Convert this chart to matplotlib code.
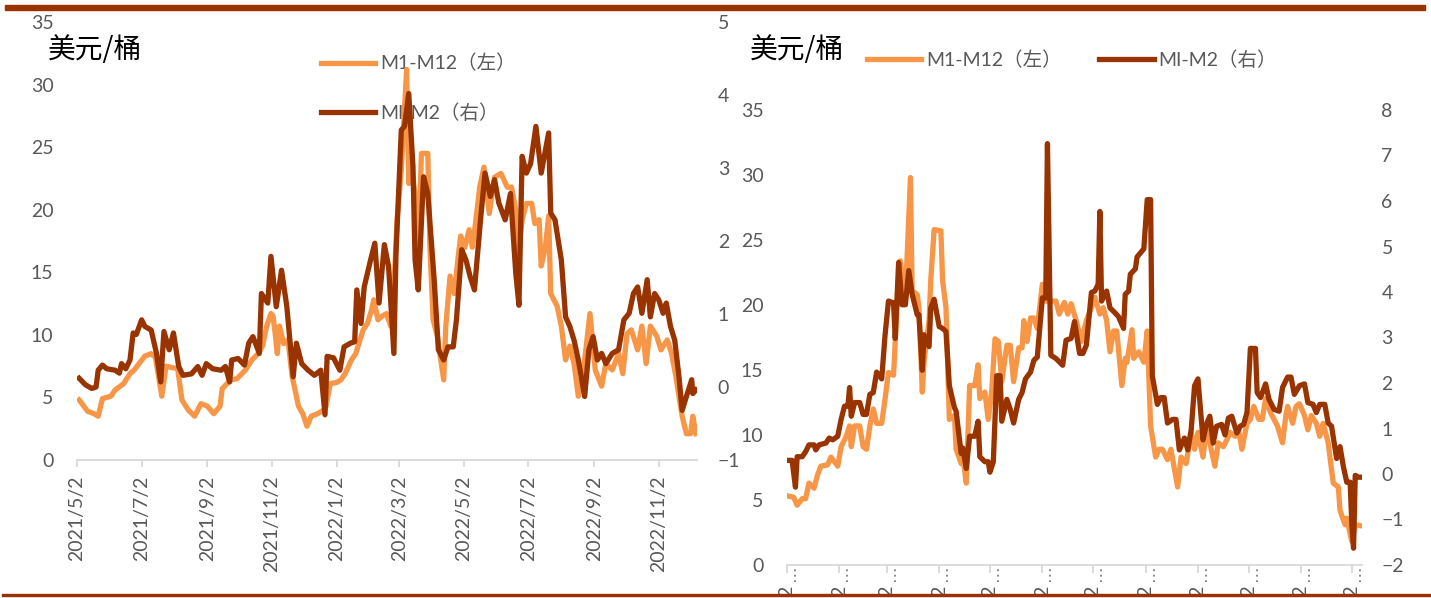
import matplotlib
matplotlib.use("Agg")
import matplotlib.pyplot as plt
import matplotlib.transforms as mtransforms
from matplotlib.patches import Rectangle
import pandas as pd

plt.rcParams['font.family'] = ['Lato', 'Noto Sans CJK SC']

ORANGE = '#F79646'
BROWN = '#993300'
GREY = '#595959'
AXIS = '#D9D9D9'

# ---- left panel: 2021/5 - 2022/12 ----
l_m12_dates = ['2021-05-04','2021-05-12','2021-05-18','2021-05-22','2021-05-26','2021-06-03','2021-06-07','2021-06-15','2021-06-21','2021-06-25',
	'2021-07-05','2021-07-11','2021-07-15','2021-07-21','2021-07-25','2021-07-30','2021-08-05','2021-08-09','2021-08-15','2021-08-21',
	'2021-08-27','2021-09-02','2021-09-08','2021-09-14','2021-09-16','2021-09-24','2021-09-30','2021-10-08','2021-10-14','2021-10-20',
	'2021-10-24','2021-10-28','2021-11-01','2021-11-03','2021-11-05','2021-11-07','2021-11-09','2021-11-13','2021-11-17','2021-11-21',
	'2021-11-27','2021-12-01','2021-12-05','2021-12-09','2021-12-15','2021-12-21','2021-12-23','2021-12-27','2022-01-02','2022-01-06',
	'2022-01-10','2022-01-16','2022-01-20','2022-01-24','2022-01-27','2022-01-31','2022-02-04','2022-02-06','2022-02-10','2022-02-14',
	'2022-02-18','2022-02-22','2022-02-26','2022-02-28','2022-03-04','2022-03-09','2022-03-11','2022-03-14','2022-03-18','2022-03-20',
	'2022-03-23','2022-03-29','2022-03-31','2022-04-03','2022-04-07','2022-04-13','2022-04-15','2022-04-19','2022-04-23','2022-04-27',
	'2022-04-29','2022-05-03','2022-05-07','2022-05-10','2022-05-13','2022-05-17','2022-05-21','2022-05-26','2022-05-31','2022-06-06',
	'2022-06-12','2022-06-16','2022-06-20','2022-06-22','2022-06-26','2022-06-30','2022-07-05','2022-07-08','2022-07-12','2022-07-14',
	'2022-07-18','2022-07-21','2022-07-23','2022-07-29','2022-08-02','2022-08-06','2022-08-10','2022-08-14','2022-08-18','2022-08-24',
	'2022-08-29','2022-09-03','2022-09-09','2022-09-13','2022-09-19','2022-09-25','2022-09-29','2022-10-03','2022-10-07','2022-10-13',
	'2022-10-17','2022-10-21','2022-10-25','2022-10-31','2022-11-04','2022-11-10','2022-11-14','2022-11-18','2022-11-24','2022-11-28',
	'2022-12-02','2022-12-04','2022-12-07']
l_m12 = [4.8,3.9,3.7,3.5,4.9,5.1,5.6,6.1,6.9,7.2,
	8.3,8.5,8.2,5.1,7.5,7.4,7.3,4.8,4.0,3.5,
	4.5,4.3,3.7,4.3,5.7,6.4,6.5,7.2,8.0,8.5,
	9.1,10.7,11.7,11.5,10.1,8.5,10.7,9.3,9.6,6.7,
	4.3,3.7,2.7,3.5,3.7,4.0,4.3,6.1,6.2,6.4,
	6.9,8.0,8.5,9.6,10.4,10.9,12.0,12.8,11.2,11.5,
	11.7,10.7,15.5,19.2,23.2,31.2,22.1,23.2,20.5,17.0,
	24.5,24.5,17.0,11.2,9.9,6.4,10.7,14.7,13.3,16.5,
	17.9,17.0,18.4,17.0,18.9,21.8,23.4,19.7,22.6,22.9,
	21.8,21.8,20.0,16.0,19.2,20.5,20.5,18.9,19.2,15.5,
	17.0,19.5,13.3,12.3,10.7,8.0,9.1,7.7,5.1,8.0,
	11.7,7.2,5.9,7.7,7.2,8.5,6.9,10.1,10.4,8.8,
	10.7,7.7,10.7,9.9,8.8,9.6,8.5,6.7,3.5,2.1,
	2.1,3.5,2.1]

l_m2_dates = ['2021-05-04','2021-05-10','2021-05-16','2021-05-20','2021-05-22','2021-05-26','2021-05-30','2021-06-07','2021-06-11','2021-06-13',
	'2021-06-17','2021-06-21','2021-06-24','2021-06-27','2021-07-02','2021-07-05','2021-07-11','2021-07-16','2021-07-20','2021-07-23',
	'2021-07-28','2021-08-01','2021-08-06','2021-08-10','2021-08-18','2021-08-24','2021-08-28','2021-09-01','2021-09-07','2021-09-15',
	'2021-09-19','2021-09-23','2021-09-25','2021-10-01','2021-10-07','2021-10-11','2021-10-15','2021-10-21','2021-10-23','2021-10-29',
	'2021-11-01','2021-11-06','2021-11-11','2021-11-16','2021-11-22','2021-11-25','2021-11-30','2021-12-06','2021-12-12','2021-12-18',
	'2021-12-22','2021-12-24','2021-12-30','2022-01-05','2022-01-09','2022-01-15','2022-01-19','2022-01-21','2022-01-25','2022-01-28',
	'2022-02-03','2022-02-07','2022-02-11','2022-02-16','2022-02-20','2022-02-25','2022-02-27','2022-03-04','2022-03-07','2022-03-11',
	'2022-03-15','2022-03-17','2022-03-20','2022-03-25','2022-03-29','2022-04-04','2022-04-08','2022-04-13','2022-04-17','2022-04-22',
	'2022-04-25','2022-04-30','2022-05-04','2022-05-08','2022-05-12','2022-05-15','2022-05-18','2022-05-22','2022-05-27','2022-05-31',
	'2022-06-04','2022-06-10','2022-06-15','2022-06-20','2022-06-23','2022-06-26','2022-06-30','2022-07-04','2022-07-09','2022-07-14',
	'2022-07-21','2022-07-23','2022-07-27','2022-08-02','2022-08-06','2022-08-10','2022-08-14','2022-08-18','2022-08-24','2022-08-28',
	'2022-09-01','2022-09-05','2022-09-09','2022-09-13','2022-09-19','2022-09-25','2022-09-30','2022-10-05','2022-10-09','2022-10-13',
	'2022-10-17','2022-10-22','2022-10-25','2022-10-29','2022-11-02','2022-11-06','2022-11-09','2022-11-13','2022-11-17','2022-11-21',
	'2022-11-24','2022-11-28','2022-12-03','2022-12-04','2022-12-07']
l_m2 = [0.12,0.03,-0.02,0.0,0.23,0.30,0.25,0.23,0.19,0.32,
	0.25,0.37,0.74,0.72,0.92,0.83,0.78,0.46,0.07,0.76,
	0.51,0.74,0.28,0.16,0.18,0.28,0.16,0.32,0.25,0.23,
	0.28,0.07,0.37,0.39,0.30,0.60,0.69,0.46,1.28,1.15,
	1.79,1.10,1.60,1.10,0.14,0.60,0.32,0.23,0.16,0.23,
	-0.38,0.42,0.40,0.23,0.55,0.60,0.62,1.33,0.87,1.37,
	1.74,1.97,1.15,1.95,1.65,0.46,1.83,3.52,3.57,4.02,
	3.02,1.74,1.33,2.88,2.65,1.47,0.51,0.37,0.55,0.55,
	0.92,1.88,1.74,1.51,1.33,1.83,2.33,2.93,2.61,2.84,
	2.52,2.29,2.65,1.56,1.12,3.16,2.93,3.06,3.57,2.93,
	3.48,2.38,2.29,1.74,0.96,0.83,0.64,0.37,-0.13,0.51,
	0.69,0.37,0.46,0.32,0.46,0.51,0.92,1.01,1.28,1.37,
	1.01,1.47,0.96,1.28,1.19,1.01,1.15,0.83,0.64,0.14,
	-0.32,-0.13,0.10,-0.09,-0.04]

l_ticks = ['2021/5/2','2021/7/2','2021/9/2','2021/11/2','2022/1/2','2022/3/2','2022/5/2','2022/7/2','2022/9/2','2022/11/2']
l_range = ['2021-05-02', '2022-12-08']

# ---- right panel: 2022 ----
r_m12_dates = ['01-03','01-06','01-08','01-11','01-13','01-15','01-18','01-20','01-22','01-26',
	'01-28','02-01','02-03','02-06','02-08','02-09','02-11','02-14','02-16','02-18',
	'02-20','02-22','02-24','02-27','03-01','03-03','03-06','03-08','03-10','03-12',
	'03-13','03-16','03-17','03-20','03-21','03-23','03-24','03-27','03-28','03-30',
	'04-03','04-04','04-06','04-08','04-11','04-12','04-15','04-16','04-18','04-20',
	'04-23','04-25','04-26','04-29','05-01','05-03','05-05','05-07','05-09','05-12',
	'05-14','05-16','05-19','05-21','05-22','05-24','05-26','05-28','05-30','06-02',
	'06-04','06-06','06-10','06-12','06-15','06-17','06-19','06-22','06-25','06-28',
	'07-01','07-03','07-06','07-08','07-10','07-12','07-14','07-16','07-19','07-21',
	'07-22','07-25','07-26','07-29','08-01','08-03','08-05','08-08','08-10','08-12',
	'08-15','08-17','08-21','08-23','08-26','08-29','08-31','09-02','09-05','09-07',
	'09-09','09-12','09-14','09-17','09-19','09-21','09-24','09-26','09-28','10-01',
	'10-03','10-05','10-08','10-10','10-12','10-15','10-17','10-19','10-22','10-24',
	'10-25','10-28','10-30','11-01','11-04','11-06','11-08','11-11','11-13','11-15',
	'11-18','11-21','11-24','11-25','11-28','11-29','12-02','12-04','12-08']
r_m12 = [5.3,5.2,4.6,5.1,5.1,6.3,5.9,6.9,7.6,7.7,
	8.3,7.6,9.1,9.9,10.7,9.1,10.7,10.7,9.1,8.9,
	10.7,12.0,10.9,10.9,12.8,14.8,14.6,19.8,23.4,21.4,
	20.6,29.8,21.1,20.8,19.8,13.3,15.6,18.8,21.9,25.8,
	25.7,21.9,19.8,11.2,11.5,8.9,7.8,8.3,6.3,13.8,
	13.8,15.4,12.8,13.3,11.2,13.3,17.4,17.2,14.1,16.9,
	16.9,14.1,16.7,16.7,18.8,17.2,19.0,19.0,18.2,21.6,
	20.3,20.3,20.3,19.3,20.2,19.3,20.1,18.8,17.2,18.8,
	19.8,20.6,19.3,19.8,18.8,16.4,18.0,18.0,13.8,15.9,
	15.6,18.1,15.9,16.4,15.6,18.0,10.7,8.3,8.9,8.9,
	8.1,8.9,6.0,8.3,7.8,10.2,8.9,10.2,8.3,10.4,
	9.4,7.6,9.4,9.1,9.6,10.2,9.9,10.4,8.9,10.9,
	11.2,12.2,11.2,11.2,12.8,11.7,11.2,10.7,9.4,11.5,
	12.2,10.9,12.2,12.4,11.5,10.4,11.5,10.9,9.9,10.9,
	9.4,6.3,6.0,4.2,3.1,3.6,1.8,3.1,3.0]

r_m2_dates = ['01-03','01-05','01-07','01-08','01-11','01-13','01-15','01-18','01-19','01-21',
	'01-25','01-27','01-29','02-01','02-03','02-05','02-07','02-08','02-09','02-11',
	'02-14','02-16','02-18','02-20','02-22','02-24','02-27','03-01','03-03','03-06',
	'03-07','03-09','03-11','03-13','03-15','03-17','03-20','03-21','03-23','03-24',
	'03-27','03-28','03-30','04-02','04-04','04-06','04-08','04-11','04-12','04-15',
	'04-16','04-18','04-20','04-23','04-25','04-26','04-29','05-01','05-02','05-04',
	'05-06','05-08','05-09','05-12','05-14','05-16','05-19','05-21','05-23','05-26',
	'05-28','05-30','06-02','06-04','06-05','06-07','06-10','06-14','06-16','06-19',
	'06-21','06-24','06-26','06-28','07-01','07-03','07-05','07-06','07-07','07-10',
	'07-12','07-15','07-17','07-20','07-21','07-23','07-24','07-27','07-28','08-01',
	'08-03','08-05','08-06','08-09','08-11','08-13','08-15','08-18','08-20','08-22',
	'08-25','08-27','08-29','08-31','09-02','09-05','09-07','09-09','09-11','09-13',
	'09-16','09-18','09-20','09-22','09-25','09-27','09-29','10-01','10-03','10-06',
	'10-07','10-09','10-12','10-14','10-17','10-20','10-22','10-25','10-27','10-29',
	'11-01','11-04','11-06','11-09','11-11','11-13','11-16','11-18','11-20','11-23',
	'11-25','11-27','11-29','12-01','12-02','12-03','12-04','12-06','12-08']
r_m2 = [0.30,0.30,-0.29,0.38,0.38,0.49,0.64,0.64,0.53,0.64,
	0.68,0.79,0.75,0.83,1.20,1.49,1.49,1.90,1.27,1.57,
	1.57,1.31,1.31,1.75,1.79,2.24,2.09,3.06,3.80,3.76,
	2.98,4.65,3.72,3.72,4.47,3.95,3.50,3.50,2.28,3.06,
	2.80,3.65,3.84,3.24,3.20,3.13,1.94,1.46,1.38,0.45,
	0.57,0.12,0.83,0.83,1.16,0.38,0.27,0.27,0.04,0.27,
	2.16,2.16,1.16,1.64,1.42,1.12,1.64,1.79,2.09,2.24,
	2.50,2.57,3.87,3.87,7.26,2.61,2.54,2.39,2.94,2.98,
	3.35,2.65,2.65,2.83,3.99,4.02,4.17,5.77,3.80,4.02,
	3.65,3.54,3.46,3.20,3.95,4.02,4.39,4.51,4.77,4.95,
	6.03,6.03,2.16,1.53,1.68,1.68,1.12,1.20,1.20,0.53,
	0.79,0.53,0.97,1.94,2.09,0.75,1.09,1.27,0.68,1.05,
	1.09,0.86,1.23,1.27,0.90,1.05,1.09,1.35,2.76,2.76,
	1.79,1.68,1.98,1.64,1.42,1.38,1.90,2.13,2.13,1.75,
	1.94,1.98,1.57,1.53,1.35,1.53,1.53,1.12,1.05,0.34,
	0.60,0.16,-0.18,-0.18,-1.11,-1.63,-0.03,-0.07,-0.07]

r_ticks = ['2022/1/2','2022/2/2','2022/3/2','2022/4/2','2022/5/2','2022/6/2','2022/7/2','2022/8/2','2022/9/2','2022/10/2','2022/11/2','2022/12/2']
r_range = ['2022-01-02', '2022-12-08']

labels = ['M1-M12（左）', 'MI-M2（右）']
unit = '美元/桶'

W, H = 1431, 598
fig = plt.figure(figsize=(W / 100, H / 100), dpi=100)


def box(x0, x1, ytop, ybot):
	return [x0 / W, 1 - ybot / H, (x1 - x0) / W, (ybot - ytop) / H]


def style(ax, ax2, pad_l, pad_r, xpad, ticks):
	for a in (ax, ax2):
		for s in a.spines.values():
			s.set_visible(False)
	ax.spines['bottom'].set_visible(True)
	ax.spines['bottom'].set_color(AXIS)
	ax.spines['bottom'].set_linewidth(1.3)
	ax.tick_params(axis='y', length=0, labelsize=14, labelcolor=GREY, pad=pad_l)
	ax2.tick_params(axis='y', length=0, labelsize=14, labelcolor=GREY, pad=pad_r)
	ax.set_xticks(pd.to_datetime(ticks, format='%Y/%m/%d'))
	ax.set_xticklabels(ticks, rotation=90, va='top')
	ax.tick_params(axis='x', length=5, width=1.3, color=AXIS, labelsize=14, labelcolor=GREY, pad=xpad)
	ax.patch.set_visible(False)


# left panel
axL = fig.add_axes(box(77, 697, 22, 460))
axL2 = axL.twinx()
hL1, = axL.plot(pd.to_datetime(l_m12_dates), l_m12, color=ORANGE, lw=3.8, solid_joinstyle='round', label=labels[0])
hL2, = axL2.plot(pd.to_datetime(l_m2_dates), l_m2, color=BROWN, lw=3.8, solid_joinstyle='round', label=labels[1])
axL.set_ylim(0, 35)
axL.set_yticks(range(0, 36, 5))
axL2.set_ylim(-1, 5)
axL2.set_yticks(range(-1, 6))
axL.set_xlim(pd.to_datetime(l_range))
style(axL, axL2, 17, 15, 6, l_ticks)
leg = axL.legend([hL1, hL2], labels, loc='upper left', bbox_to_anchor=(321 / W, 1 - 54 / H),
	bbox_transform=fig.transFigure, frameon=False, fontsize=14, handlelength=2.8,
	handletextpad=0.26, labelspacing=1.6, borderpad=0, borderaxespad=0)
for t in leg.get_texts():
	t.set_color(GREY)
leg.set_zorder(1)

# right panel
axR = fig.add_axes(box(787, 1362, 110, 565))
axR2 = axR.twinx()
r_m12_d = pd.to_datetime(['2022-' + d for d in r_m12_dates])
r_m2_d = pd.to_datetime(['2022-' + d for d in r_m2_dates])
hR1, = axR.plot(r_m12_d, r_m12, color=ORANGE, lw=3.8, solid_joinstyle='round', label=labels[0])
hR2, = axR2.plot(r_m2_d, r_m2, color=BROWN, lw=3.8, solid_joinstyle='round', label=labels[1])
axR.set_ylim(0, 35)
axR.set_yticks(range(0, 36, 5))
axR2.set_ylim(-2, 8)
axR2.set_yticks(range(-2, 9))
axR.set_xlim(pd.to_datetime(r_range))
style(axR, axR2, 17, 14, 8, r_ticks)
axR.tick_params(axis='x', length=6)
leg2 = axR.legend([hR1, hR2], labels, loc='upper left', bbox_to_anchor=(867 / W, 1 - 50 / H),
	bbox_transform=fig.transFigure, frameon=False, fontsize=14, handlelength=2.8, ncol=2,
	handletextpad=0.26, columnspacing=1.9, borderpad=0, borderaxespad=0)
for t in leg2.get_texts():
	t.set_color(GREY)
leg2.set_zorder(1)

# dotted marks under the clipped date labels
trans = mtransforms.blended_transform_factory(axR.transData, axR.transAxes)
trans = trans + mtransforms.ScaledTranslation(8 / 100, 0, fig.dpi_scale_trans)
axR.vlines(pd.to_datetime(r_ticks, format='%Y/%m/%d'), -0.037, -0.005, transform=trans,
	colors='#7F7F7F', linestyles=(0, (1, 2)), lw=1.3, clip_on=False)

# unit labels
for x in (48, 750):
	fig.text(x / W, 1 - 50 / H, unit, fontsize=20, family=['Noto Sans CJK SC'], color='black',
		ha='left', va='center')

# frame lines
fig.patches.append(Rectangle((5 / W, 1 - 10 / H), 1420 / W, 5 / H, transform=fig.transFigure,
	color=BROWN, zorder=10))
fig.patches.append(Rectangle((2 / W, 1 - 596 / H), 1429 / W, 2 / H, transform=fig.transFigure,
	color=BROWN, zorder=10))

fig.savefig('out.png', dpi=100)
